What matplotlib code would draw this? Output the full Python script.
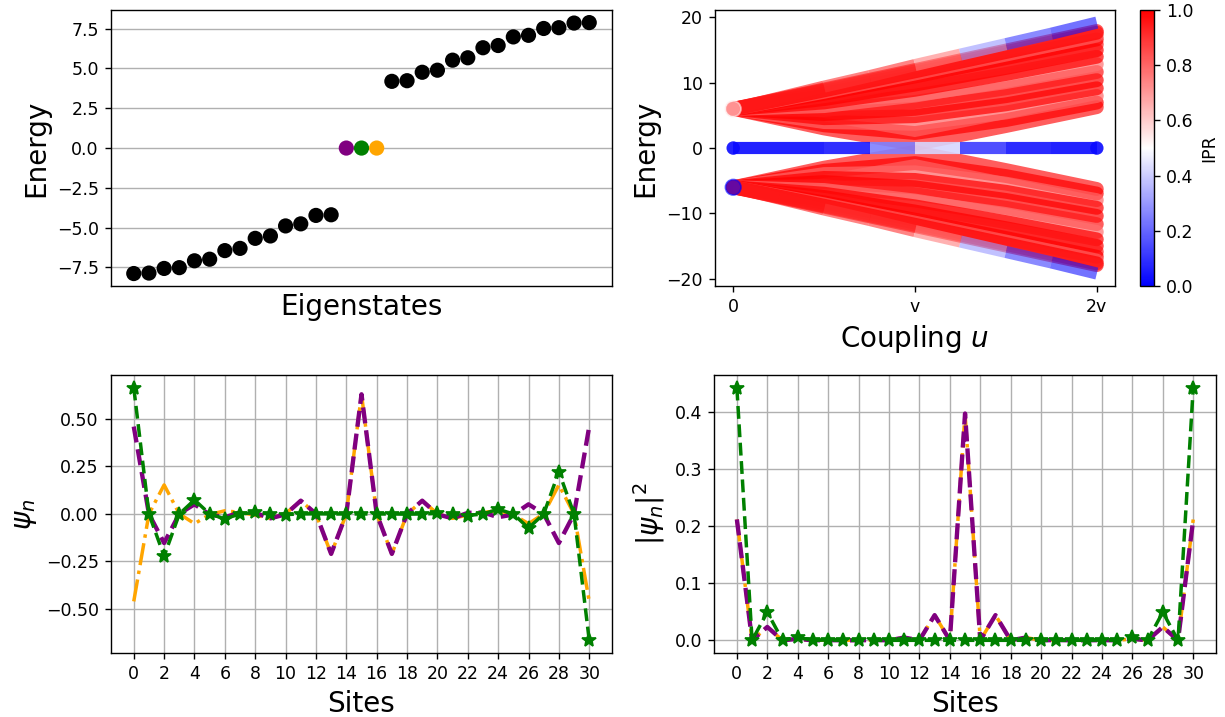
import matplotlib
matplotlib.use('Agg')
import matplotlib.pyplot as plt
import numpy as np

# eigenvalues of the 31-site chain (top left)
energies = [-7.88, -7.85, -7.56, -7.51, -7.08, -6.98, -6.44, -6.30, -5.67, -5.52,
            -4.89, -4.76, -4.23, -4.19, 0.0, 0.0, 0.0,
            4.19, 4.23, 4.76, 4.89, 5.52, 5.67, 6.30, 6.44, 6.98, 7.08,
            7.51, 7.56, 7.85, 7.88]
zero_idx = [14, 15, 16]

# band energies vs coupling u (in units of v), upper half; lower half is mirrored
u_nodes = [0.0, 0.5, 1.0, 1.5, 2.0]
bulk_up = [
    [6.0, 3.00, 0.60, 3.37, 6.26],
    [6.0, 3.48, 2.30, 4.28, 6.96],
    [6.0, 3.98, 3.71, 5.44, 7.97],
    [6.0, 4.57, 4.88, 6.69, 9.15],
    [6.0, 5.20, 6.00, 7.94, 10.39],
    [6.0, 5.82, 7.05, 9.14, 11.64],
    [6.0, 6.42, 8.03, 10.28, 12.84],
    [6.0, 6.98, 8.92, 11.33, 13.97],
    [6.0, 7.49, 9.71, 12.26, 14.98],
    [6.0, 7.94, 10.39, 13.08, 15.87],
    [6.0, 8.31, 10.96, 13.76, 16.62],
    [6.0, 8.61, 11.41, 14.30, 17.22],
    [6.0, 8.83, 11.74, 14.69, 17.65],
    [6.0, 8.96, 11.93, 14.92, 17.91],
]
bulk_ipr = [0.95, 1.0, 0.8, 1.0, 1.0, 0.95, 0.78, 1.0, 1.0, 0.95, 1.0, 0.82, 1.0, 0.95]
outer_nodes = [0.0, 0.25, 0.5, 0.75, 1.0, 1.25, 1.5, 1.75, 2.0]
outer_up = [6.0, 7.7, 9.4, 11.0, 12.7, 14.3, 15.9, 17.5, 19.2]
outer_ipr = [0.95, 0.95, 0.9, 0.9, 0.75, 0.3, 0.12, 0.04]   # per segment
zero_nodes = [0.0, 0.25, 0.5, 0.75, 1.0, 1.25, 1.5, 1.75, 2.0]
zero_E = [0, 0, 0, 0, 0, 0, 0, 0, 0]
zero_ipr = [0.02, 0.02, 0.05, 0.25, 0.42, 0.12, 0.04, 0.02]   # per segment
start_E = [6.0, -6.0]
start_ipr = [0.55, 0.0]

# zero-mode wavefunctions (bottom panels)
sites = np.arange(31)
psi_purple = [0.46, 0.0, -0.153, 0.001, 0.051, -0.003, -0.017, 0.008, 0.006, -0.023,
              -0.002, 0.07, 0.001, -0.21, 0.0, 0.63, 0.0, -0.21, 0.001, 0.07,
              -0.002, -0.023, 0.006, 0.008, -0.017, -0.003, 0.051, 0.001, -0.153, 0.0, 0.46]
psi_orange = [-0.46, 0.0, 0.153, 0.001, -0.051, -0.003, 0.017, 0.008, -0.006, -0.023,
              0.002, 0.07, -0.001, -0.21, 0.0, 0.63, 0.0, -0.21, -0.001, 0.07,
              0.002, -0.023, -0.006, 0.008, 0.017, -0.003, -0.051, 0.001, 0.153, 0.0, -0.46]
psi_green = [0.665, 0.0, -0.222, 0.0, 0.074, 0.0, -0.025, 0.0, 0.008, 0.0,
             -0.003, 0.0, 0.001, 0.0, 0.0, 0.0, 0.0, 0.0, -0.001, 0.0,
             0.003, 0.0, -0.008, 0.0, 0.025, 0.0, -0.074, 0.0, 0.222, 0.0, -0.665]

fig = plt.figure(figsize=(9.8, 5.736), dpi=125)
ax1 = fig.add_axes([0.0906, 0.601, 0.409, 0.385])
ax2 = fig.add_axes([0.5837, 0.601, 0.3265, 0.385])
cax = fig.add_axes([0.9306, 0.601, 0.0114, 0.385])
ax3 = fig.add_axes([0.0906, 0.0893, 0.409, 0.3877])
ax4 = fig.add_axes([0.5829, 0.0893, 0.4098, 0.3877])

# top left: spectrum
cols = ['black'] * len(energies)
for i, c in zip(zero_idx, ['purple', 'green', 'orange']):
    cols[i] = c
ax1.scatter(np.arange(len(energies)), energies, c=cols, s=60, zorder=3)
ax1.grid(axis='y')
ax1.set_xticks([])
ax1.set_xlabel('Eigenstates', fontsize=16)
ax1.set_ylabel('Energy', fontsize=16)

# top right: energies vs coupling, coloured by IPR
cmap = plt.get_cmap('bwr')
lw = 8
for sign in [1, -1]:
    for band, ipr in zip(bulk_up, bulk_ipr):
        ax2.plot(u_nodes, sign * np.array(band), color=cmap(ipr), lw=lw,
                 alpha=0.7, solid_capstyle='round', solid_joinstyle='round')
    for k in range(len(outer_nodes) - 1):
        ax2.plot(outer_nodes[k:k + 2], sign * np.array(outer_up[k:k + 2]),
                 color=cmap(outer_ipr[k]), lw=lw - 1, alpha=0.6, solid_capstyle='butt')
for k in range(len(zero_nodes) - 1):
    ax2.plot(zero_nodes[k:k + 2], zero_E[k:k + 2], color=cmap(zero_ipr[k]),
             lw=lw - 1, alpha=0.9, solid_capstyle='butt')
ax2.scatter([0, 2], [0, 0], c=[zero_ipr[0], zero_ipr[-1]], cmap='bwr', vmin=0, vmax=1,
            s=60, alpha=0.9, linewidths=0)
ax2.scatter([0, 0], start_E, c=start_ipr, cmap='bwr', vmin=0, vmax=1, s=80,
            alpha=0.6, zorder=3)
ax2.set_xticks([0, 1, 2])
ax2.set_xticklabels(['0', 'v', '2v'])
ax2.set_xlabel('Coupling $u$', fontsize=16)
ax2.set_ylabel('Energy', fontsize=16)
sm = plt.cm.ScalarMappable(cmap='bwr', norm=plt.Normalize(0, 1))
fig.colorbar(sm, cax=cax, label='IPR')

# bottom left: wavefunctions
ax3.plot(sites, psi_orange, '-.', color='orange', lw=2)
ax3.plot(sites, psi_purple, '--', color='purple', lw=2.5)
ax3.plot(sites, psi_green, 'g*--', lw=2, ms=8)
ax3.set_xticks(range(0, 31, 2))
ax3.set_yticks([-0.5, -0.25, 0.0, 0.25, 0.5])
ax3.grid()
ax3.set_xlabel('Sites', fontsize=16)
ax3.set_ylabel(r'$\psi_n$', fontsize=16)

# bottom right: probability densities
ax4.plot(sites, np.abs(psi_orange) ** 2, '-.', color='orange', lw=2)
ax4.plot(sites, np.abs(psi_purple) ** 2, '--', color='purple', lw=2.5)
ax4.plot(sites, np.abs(psi_green) ** 2, 'g*--', lw=2, ms=8)
ax4.set_xticks(range(0, 31, 2))
ax4.grid()
ax4.set_xlabel('Sites', fontsize=16)
ax4.set_ylabel(r'$|\psi_n|^2$', fontsize=16)

fig.savefig('out.png', dpi=125)
